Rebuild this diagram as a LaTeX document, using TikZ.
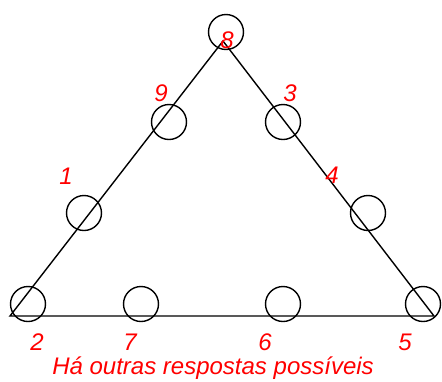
\documentclass[tikz,border=0pt]{standalone}
\usepackage{fontspec}
\setmainfont{Liberation Sans}
\begin{document}
\begin{tikzpicture}[x=1pt,y=-1pt,
  ring/.style={draw=black,line width=1.4pt,circle,minimum size=35pt,inner sep=0pt},
  edge/.style={draw=black,line width=1.4pt},
  num/.style={text=red,font=\fontsize{24}{27}\selectfont\itshape,inner sep=0pt}]
\useasboundingbox (0,0) rectangle (442,381);
\coordinate (A) at (223,41);
\coordinate (B) at (10,316);
\coordinate (C) at (434,316);
\draw[edge] (A) -- (B) -- (C) -- cycle;
\node[ring] (c8) at (226,32) {};
\node[ring] (c9) at (169,122) {};
\node[ring] (c3) at (283,122) {};
\node[ring] (c1) at (84,213) {};
\node[ring] (c4) at (368,213) {};
\node[ring] (c2) at (28,304) {};
\node[ring] (c7) at (141,304) {};
\node[ring] (c6) at (283,304) {};
\node[ring] (c5) at (423,304) {};
\node[num] (l8) at (227,40) {8};
\node[num] (l9) at (161,93) {9};
\node[num] (l3) at (290,93) {3};
\node[num] (l1) at (66,176) {1};
\node[num] (l4) at (332,175) {4};
\node[num] (l2) at (37,342) {2};
\node[num] (l7) at (130,342) {7};
\node[num] (l6) at (265,342) {6};
\node[num] (l5) at (405,342) {5};
\node[num] (note) at (213,368) {Há outras respostas possíveis};
\end{tikzpicture}
\end{document}
